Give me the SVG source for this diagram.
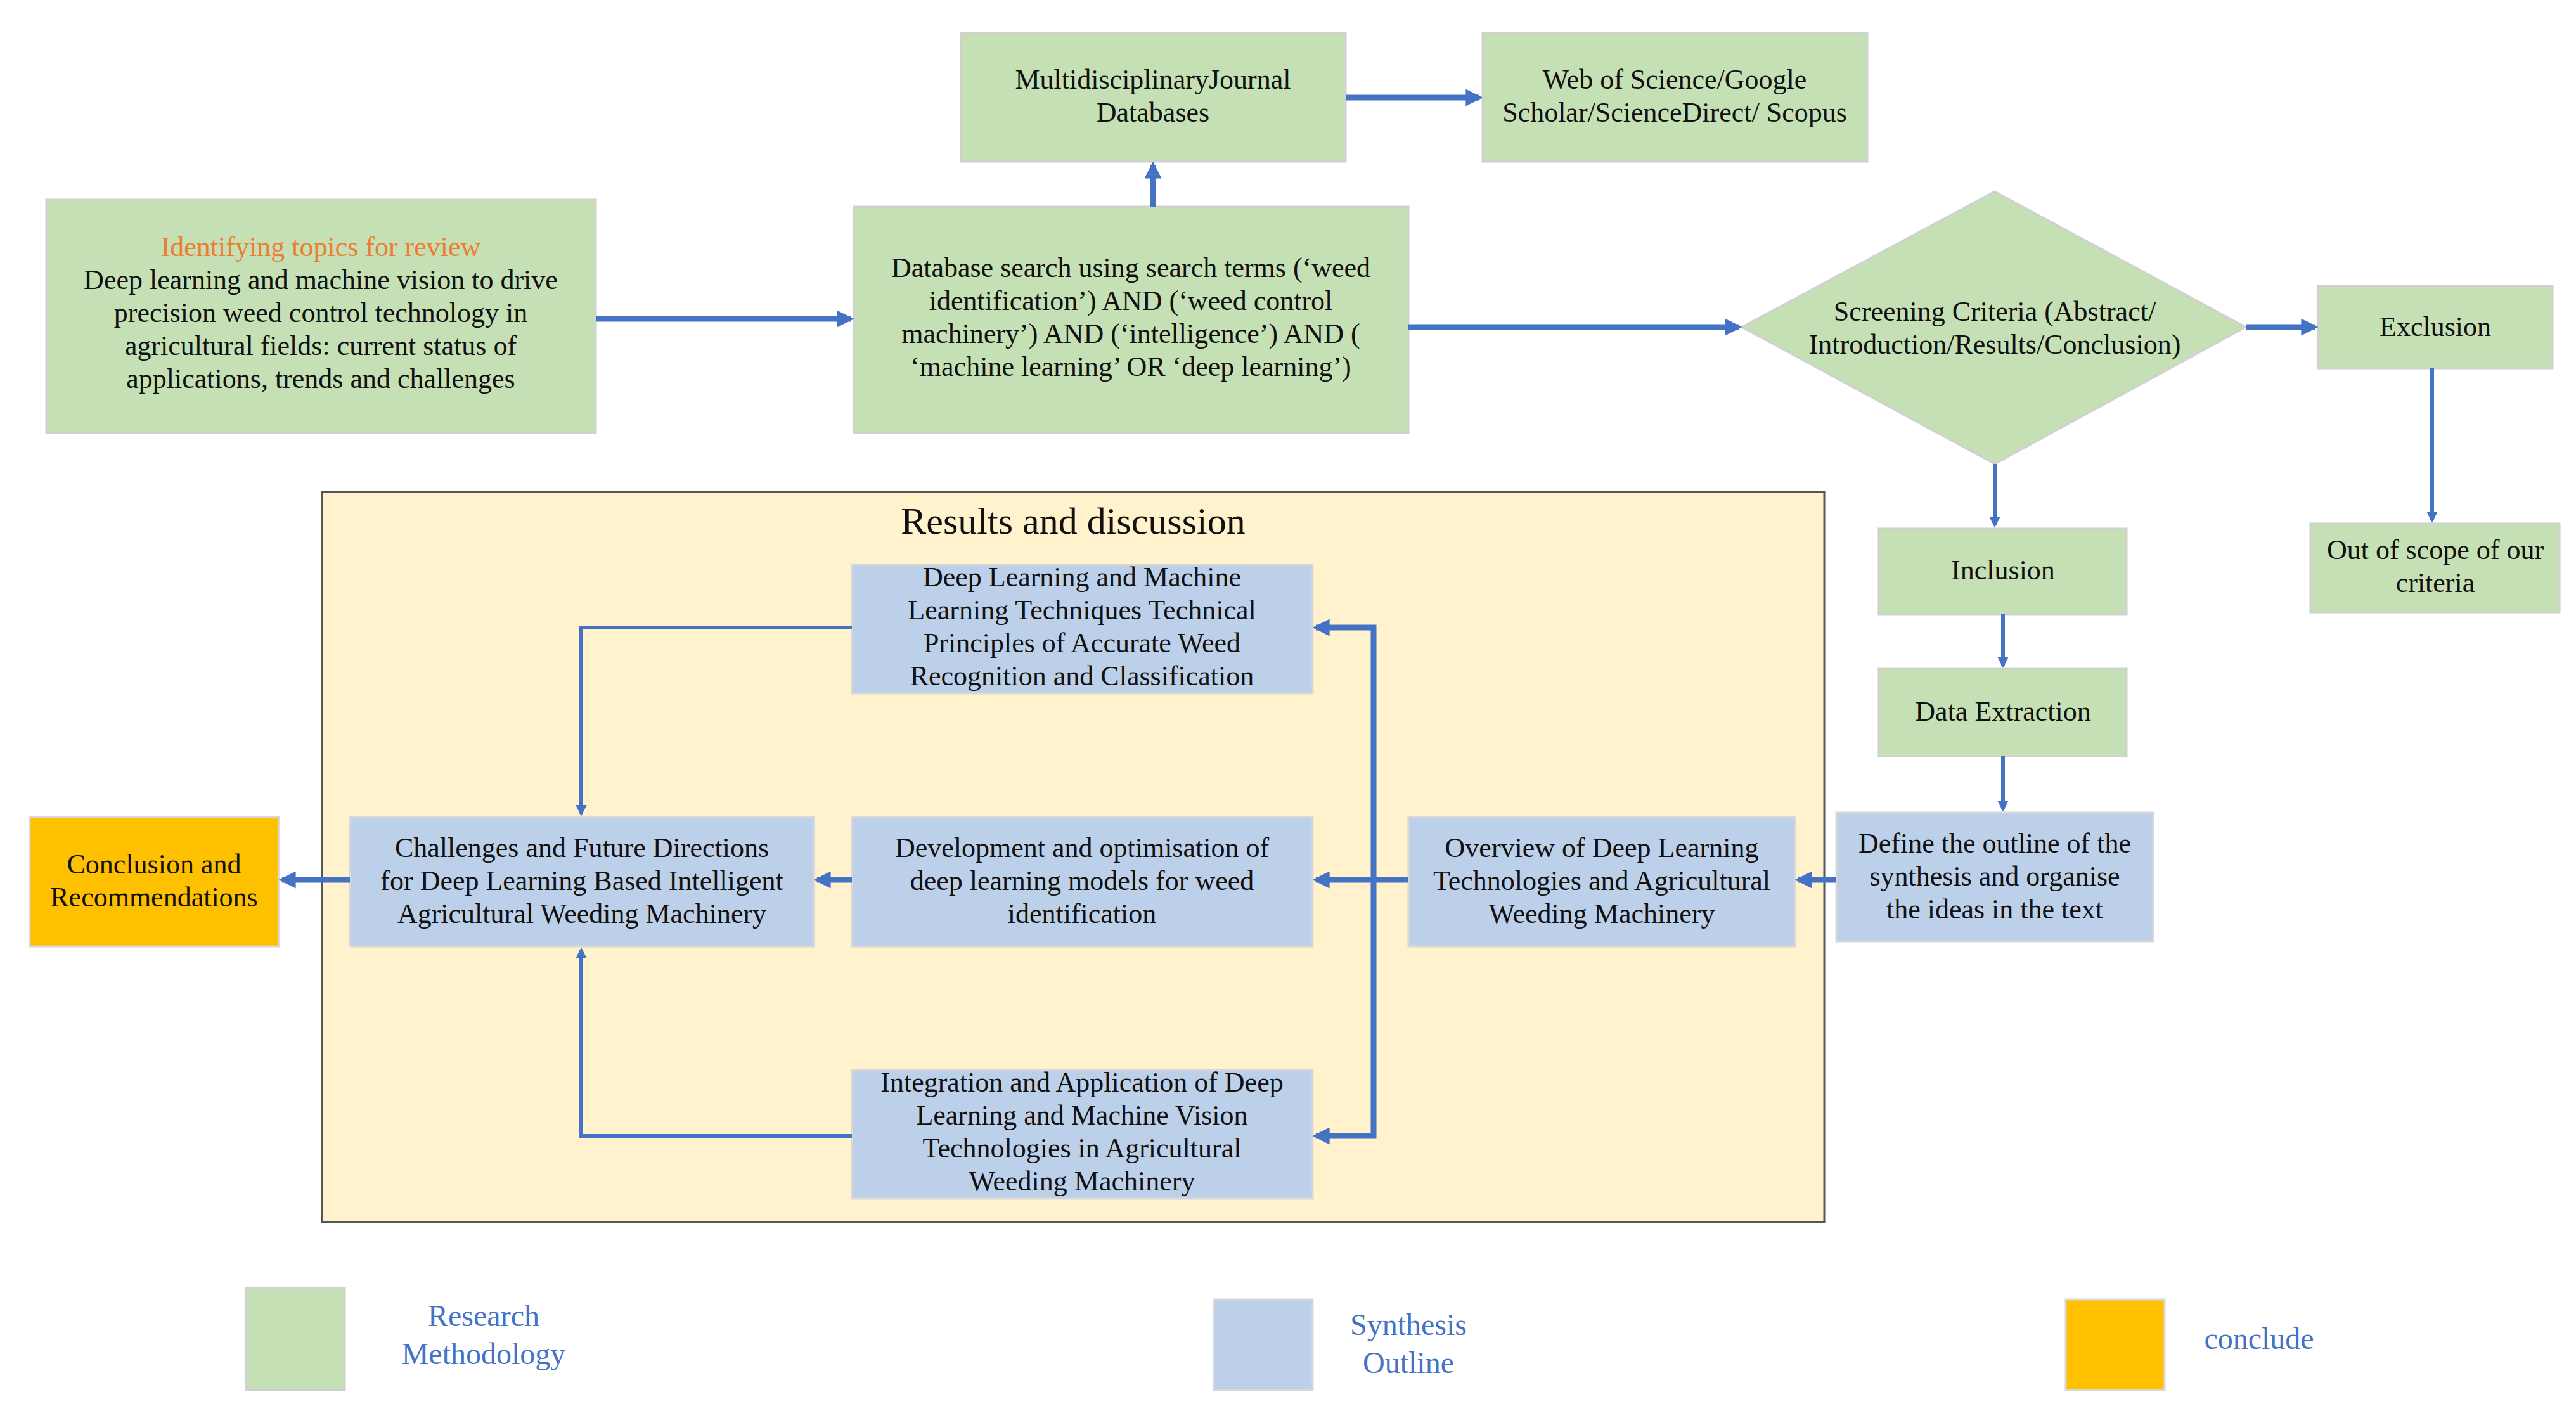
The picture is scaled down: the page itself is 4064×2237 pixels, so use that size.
<svg xmlns="http://www.w3.org/2000/svg" width="4064" height="2237" viewBox="0 0 4064 2237">
<style>
.g{fill:#C5E0B4;stroke:#d0d0d0;stroke-width:3}
.b{fill:#BDD0E9;stroke:#d8d8d8;stroke-width:3}
.o{fill:#FFC000;stroke:#d8d8d8;stroke-width:3}
text{font-family:"Liberation Serif",serif;font-size:44px;fill:#111;text-anchor:middle}
.c line,.c path{stroke:#4472C4;stroke-width:9;fill:none;marker-end:url(#ah)}
.c .t{stroke-width:6}
.lg{fill:#4472C4;font-size:48px}
</style>
<defs><marker id="ah" viewBox="0 0 10 10" refX="8" refY="5" markerWidth="3" markerHeight="3" orient="auto" markerUnits="strokeWidth"><path d="M0,0L10,5L0,10z" fill="#4472C4"/></marker></defs>
<rect width="4064" height="2237" fill="#fff"/>
<g id="container"><rect x="508" y="776" width="2370" height="1152" fill="#FFF2CC" stroke="#555" stroke-width="3"/><text x="1693" y="842" style="font-size:60px">Results and discussion</text></g>
<g id="multi"><rect class="g" x="1516" y="52" width="607" height="203"/><text x="1819" y="140">MultidisciplinaryJournal</text><text x="1819" y="192">Databases</text></g>
<g id="wos"><rect class="g" x="2339" y="52" width="607" height="203"/><text x="2642" y="140">Web of Science/Google</text><text x="2642" y="192">Scholar/ScienceDirect/ Scopus</text></g>
<g id="identify"><rect class="g" x="73" y="315" width="867" height="368"/><text x="506" y="404" style="fill:#ED7D31">Identifying topics for review</text><text x="506" y="456">Deep learning and machine vision to drive</text><text x="506" y="508">precision weed control technology in</text><text x="506" y="560">agricultural fields: current status of</text><text x="506" y="612">applications, trends and challenges</text></g>
<g id="dbsearch"><rect class="g" x="1347" y="326" width="875" height="357"/><text x="1784" y="437">Database search using search terms (‘weed</text><text x="1784" y="489">identification’) AND (‘weed control</text><text x="1784" y="541">machinery’) AND (‘intelligence’) AND (</text><text x="1784" y="593">‘machine learning’ OR ‘deep learning’)</text></g>
<g id="screening"><polygon class="g" points="3147,302 3543,516 3147,732 2748,516"/><text x="3147" y="506">Screening Criteria (Abstract/</text><text x="3147" y="558">Introduction/Results/Conclusion)</text></g>
<g id="exclusion"><rect class="g" x="3657" y="451" width="370" height="130"/><text x="3842" y="530">Exclusion</text></g>
<g id="outscope"><rect class="g" x="3645" y="826" width="393" height="140"/><text x="3842" y="882">Out of scope of our</text><text x="3842" y="934">criteria</text></g>
<g id="inclusion"><rect class="g" x="2964" y="834" width="391" height="135"/><text x="3160" y="914">Inclusion</text></g>
<g id="dataext"><rect class="g" x="2964" y="1055" width="391" height="138"/><text x="3160" y="1137">Data Extraction</text></g>
<g id="define"><rect class="b" x="2897" y="1282" width="500" height="203"/><text x="3147" y="1345">Define the outline of the</text><text x="3147" y="1397">synthesis and organise</text><text x="3147" y="1449">the ideas in the text</text></g>
<g id="deeptech"><rect class="b" x="1344" y="891" width="727" height="203"/><text x="1707" y="925">Deep Learning and Machine</text><text x="1707" y="977">Learning Techniques Technical</text><text x="1707" y="1029">Principles of Accurate Weed</text><text x="1707" y="1081">Recognition and Classification</text></g>
<g id="challenges"><rect class="b" x="552" y="1289" width="732" height="204"/><text x="918" y="1352">Challenges and Future Directions</text><text x="918" y="1404">for Deep Learning Based Intelligent</text><text x="918" y="1456">Agricultural Weeding Machinery</text></g>
<g id="development"><rect class="b" x="1344" y="1289" width="727" height="204"/><text x="1707" y="1352">Development and optimisation of</text><text x="1707" y="1404">deep learning models for weed</text><text x="1707" y="1456">identification</text></g>
<g id="overview"><rect class="b" x="2222" y="1289" width="610" height="204"/><text x="2527" y="1352">Overview of Deep Learning</text><text x="2527" y="1404">Technologies and Agricultural</text><text x="2527" y="1456">Weeding Machinery</text></g>
<g id="integration"><rect class="b" x="1344" y="1688" width="727" height="203"/><text x="1707" y="1722">Integration and Application of Deep</text><text x="1707" y="1774">Learning and Machine Vision</text><text x="1707" y="1826">Technologies in Agricultural</text><text x="1707" y="1878">Weeding Machinery</text></g>
<g id="conclusion"><rect class="o" x="47" y="1289" width="393" height="204"/><text x="243" y="1378">Conclusion and</text><text x="243" y="1430">Recommendations</text></g>
<g id="legend"><rect class="g" x="388" y="2032" width="156" height="161"/><text class="lg" x="763" y="2092">Research</text><text class="lg" x="763" y="2152">Methodology</text><rect class="b" x="1915" y="2050" width="156" height="143"/><text class="lg" x="2222" y="2106">Synthesis</text><text class="lg" x="2222" y="2166">Outline</text><rect class="o" x="3259" y="2050" width="156" height="143"/><text class="lg" x="3564" y="2128">conclude</text></g>
<g id="connectors" class="c">
<line x1="940" y1="503" x2="1342" y2="503"/>
<line x1="1819" y1="326" x2="1819" y2="260"/>
<line x1="2123" y1="154" x2="2334" y2="154"/>
<line x1="2222" y1="516" x2="2743" y2="516"/>
<line x1="3543" y1="516" x2="3652" y2="516"/>
<line class="t" x1="3837" y1="581" x2="3837" y2="821"/>
<line class="t" x1="3147" y1="732" x2="3147" y2="829"/>
<line class="t" x1="3160" y1="969" x2="3160" y2="1050"/>
<line class="t" x1="3160" y1="1193" x2="3160" y2="1277"/>
<line x1="2897" y1="1388" x2="2837" y2="1388"/>
<line x1="2222" y1="1388" x2="2076" y2="1388"/>
<path d="M2167,1388V990H2076"/>
<path d="M2167,1388V1792H2076"/>
<path class="t" d="M1344,990H917V1284"/>
<path class="t" d="M1344,1792H917V1498"/>
<line x1="1344" y1="1388" x2="1289" y2="1388"/>
<line x1="552" y1="1388" x2="445" y2="1388"/>
</g>
</svg>
